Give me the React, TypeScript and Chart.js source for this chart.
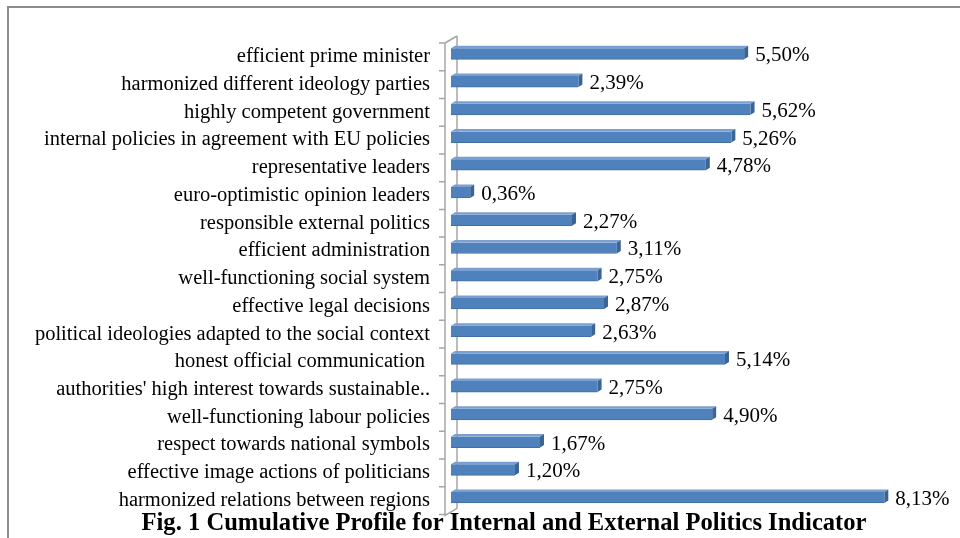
import React, { useEffect, useRef } from "react";
import { Chart, registerables } from "chart.js";

Chart.register(...registerables);

const categories = [
  "efficient prime minister",
  "harmonized different ideology parties",
  "highly competent government",
  "internal policies in agreement with EU policies",
  "representative leaders",
  "euro-optimistic opinion leaders",
  "responsible external politics",
  "efficient administration",
  "well-functioning social system",
  "effective legal decisions",
  "political ideologies adapted to the social context",
  "honest official communication ",
  "authorities' high interest towards sustainable..",
  "well-functioning labour policies",
  "respect towards national symbols",
  "effective image actions of politicians",
  "harmonized relations between regions",
];

const values = [5.5, 2.39, 5.62, 5.26, 4.78, 0.36, 2.27, 3.11, 2.75, 2.87, 2.63, 5.14, 2.75, 4.9, 1.67, 1.2, 8.13];

const titleText = "Fig. 1 Cumulative Profile for Internal and External Politics Indicator";

const SERIF = '"Liberation Serif", "Times New Roman", "DejaVu Serif", serif';

const wallPlugin = {
  id: "wall3d",
  beforeDatasetsDraw(chart: any) {
    const { ctx, chartArea } = chart;
    const yScale = chart.scales.y;
    const left = chartArea.left;
    const top = chartArea.top;
    const bottom = chartArea.bottom;
    const fx = left - 6;
    const bx = left + 6;
    ctx.save();
    ctx.strokeStyle = "#a6a6a6";
    ctx.lineWidth = 1.5;
    ctx.beginPath();
    ctx.moveTo(bx, top - 4);
    ctx.lineTo(bx, bottom - 3);
    ctx.moveTo(fx, top + 3);
    ctx.lineTo(fx, bottom + 4);
    ctx.lineTo(bx, bottom - 3);
    ctx.moveTo(fx, top + 3);
    ctx.lineTo(bx, top - 4);
    const n = chart.data.labels.length;
    for (let k = 0; k <= n; k++) {
      const y = yScale.getPixelForValue(k - 0.5) + 3;
      ctx.moveTo(fx - 6, y);
      ctx.lineTo(fx, y);
    }
    ctx.stroke();
    ctx.restore();
  },
};

const barPlugin = {
  id: "bars3d",
  afterDatasetsDraw(chart: any) {
    const { ctx } = chart;
    const meta = chart.getDatasetMeta(0);
    const data = chart.data.datasets[0].data as number[];
    const dx = 4;
    const dy = 2.5;
    ctx.save();
    meta.data.forEach((el: any, i: number) => {
      const p = el.getProps(["x", "y", "base", "height"], true);
      const t = p.y - p.height / 2;
      const b = p.y + p.height / 2;
      ctx.fillStyle = "#7a9fd0";
      ctx.beginPath();
      ctx.moveTo(p.base, t);
      ctx.lineTo(p.base + dx, t - dy);
      ctx.lineTo(p.x + dx, t - dy);
      ctx.lineTo(p.x, t);
      ctx.closePath();
      ctx.fill();
      ctx.fillStyle = "#3a6495";
      ctx.beginPath();
      ctx.moveTo(p.x, t);
      ctx.lineTo(p.x + dx, t - dy);
      ctx.lineTo(p.x + dx, b - dy);
      ctx.lineTo(p.x, b);
      ctx.closePath();
      ctx.fill();
      ctx.fillStyle = "#000";
      ctx.font = `21px ${SERIF}`;
      ctx.textAlign = "left";
      ctx.textBaseline = "middle";
      const txt = data[i].toFixed(2).replace(".", ",") + "%";
      ctx.fillText(txt, p.x + 11, p.y + 2);
    });
    ctx.restore();
  },
};

export default function App() {
  const ref = useRef<HTMLCanvasElement>(null);
  useEffect(() => {
    if (!ref.current) return;
    const chart = new Chart(ref.current, {
      type: "bar",
      data: {
        labels: categories,
        datasets: [
          {
            data: values,
            backgroundColor: "#4f81bd",
            borderColor: "#41709f",
            borderWidth: { bottom: 1, left: 0, right: 0, top: 0 } as any,
            barThickness: 11,
            borderSkipped: false,
          },
        ],
      },
      options: {
        indexAxis: "y",
        responsive: false,
        animation: false,
        layout: { padding: { left: 0, right: 0, top: 40, bottom: 0 } },
        plugins: {
          legend: { display: false },
          tooltip: { enabled: false },
          title: {
            display: true,
            position: "bottom",
            text: titleText,
            color: "#000",
            font: { family: SERIF, size: 24.6, weight: "bold", lineHeight: 1 },
            padding: { top: 0, bottom: 2 },
          },
        },
        scales: {
          x: { display: false, min: 0, max: 10.45 },
          y: {
            grid: { display: false, drawTicks: false },
            border: { display: false },
            ticks: {
              autoSkip: false,
              padding: 21,
              labelOffset: 3,
              color: "#000",
              font: { family: SERIF, size: 20.5 },
            },
            afterFit: (scale: any) => {
              scale.width = 451;
              scale.paddingTop = 0;
              scale.paddingBottom = 0;
            },
          },
        },
      },
      plugins: [wallPlugin, barPlugin],
    });
    return () => chart.destroy();
  }, []);

  return (
    <div
      style={{
        position: "fixed",
        left: 0,
        top: 0,
        width: 960,
        height: 538,
        overflow: "hidden",
        background: "#fff",
      }}
    >
      <div
        style={{
          position: "absolute",
          left: 7,
          top: 6,
          width: 1000,
          height: 1000,
          borderTop: "2px solid #8c8c8c",
          borderLeft: "2px solid #8c8c8c",
        }}
      />
      <canvas
        ref={ref}
        width={1008}
        height={538}
        style={{ position: "absolute", left: 0, top: 0, width: 1008, height: 538 }}
      />
    </div>
  );
}
